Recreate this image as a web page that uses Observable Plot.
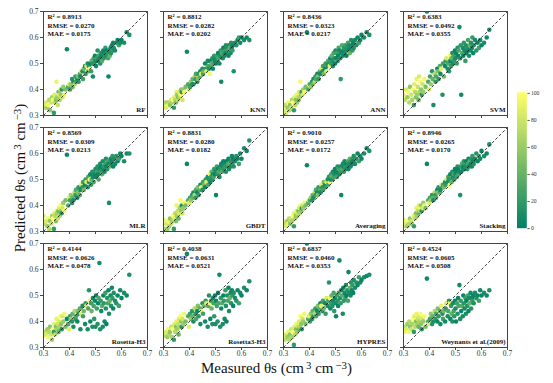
<!DOCTYPE html>
<html><head><meta charset="utf-8">
<script src="https://cdn.jsdelivr.net/npm/d3@7"></script>
<script src="https://cdn.jsdelivr.net/npm/@observablehq/plot@0.6"></script>
<style>
body{margin:0;background:#fff;}
#wrap{position:relative;width:553px;height:383px;font-family:"Liberation Serif","Times New Roman",serif;color:#111;}
#wrap svg{position:absolute;left:0;top:0;}
#bar{position:absolute;left:517px;top:89px;}
#bar svg{position:static;}
.lab{position:absolute;font-size:15px;line-height:15px;white-space:nowrap;}
.lab sup{font-size:0.72em;line-height:1;position:relative;top:-0.4em;vertical-align:baseline;margin-left:2px;}
#xlab{left:0;width:553px;text-align:center;top:361px;}
#ylab{left:20px;top:178px;transform:translate(-50%,-50%) rotate(-90deg);}
</style></head><body>
<div id="wrap">
  <div id="bar"></div>
  <div class="lab" id="xlab">Measured θs (cm<sup>3</sup> cm<sup>−3</sup>)</div>
  <div class="lab" id="ylab">Predicted θs (cm<sup>3</sup> cm<sup>−3</sup>)</div>
</div>
<script>
const models = ["RF","KNN","ANN","SVM","MLR","GBDT","Averaging","Stacking","Rosetta-H3","Rosetta3-H3","HYPRES","Weynants et al.(2009)"];
const r2Values = ["0.8913","0.8812","0.8436","0.6383","0.8569","0.8831","0.9010","0.8946","0.4144","0.4038","0.6837","0.4524"];
const rmseValues = ["0.0270","0.0282","0.0323","0.0492","0.0309","0.0280","0.0257","0.0265","0.0626","0.0631","0.0460","0.0605"];
const maeValues = ["0.0175","0.0202","0.0217","0.0355","0.0213","0.0182","0.0172","0.0170","0.0478","0.0521","0.0353","0.0508"];
const axisTicks = [0.3,0.4,0.5,0.6,0.7];
const colorTicks = [0,20,40,60,80,100];

const measured = [.300,.305,.310,.315,.318,.322,.325,.330,.333,.336,.340,.342,.345,.348,.350,.352,.355,.358,.360,.362,.365,.368,.370,.373,.376,.380,.385,.390,.395,.398,
.402,.405,.410,.412,.415,.420,.423,.425,.430,.432,.435,.440,.442,.445,.450,.452,.455,.460,.462,.465,.470,.472,.475,.478,.480,.483,.485,.488,.490,.493,.495,.498,
.500,.502,.505,.508,.510,.512,.515,.518,.520,.522,.525,.528,.530,.532,.535,.538,.540,.542,.545,.548,.550,.552,.555,.558,.560,.563,.565,.568,.570,.575,.580,.585,.590,.595,.600,.610,.620,.630];
const colorValue = [90,75,85,60,95,70,55,80,65,100,20,88,72,50,92,62,78,40,85,68,98,55,15,82,60,95,48,5,30,88,
25,60,15,40,10,70,20,30,5,50,18,35,8,90,12,25,45,6,20,85,10,30,15,95,5,22,40,12,8,28,18,3,
10,5,25,15,3,30,8,12,20,6,35,10,4,18,8,22,12,2,15,28,5,10,40,8,14,6,20,3,12,9,15,5,25,8,4,10,6,12];

const predRF = [.34,.33,.35,.33,.34,.36,.32,.35,.37,.36,.31,.38,.35,.36,.43,.37,.34,.39,.38,.36,.40,.38,.40,.37,.41,.38,.40,.555,.41,.42,
.40,.42,.44,.41,.43,.42,.45,.43,.44,.45,.43,.46,.45,.47,.47,.44,.48,.49,.46,.49,.50,.47,.49,.48,.50,.47,.51,.50,.45,.52,.50,.53,
.51,.49,.52,.55,.51,.53,.52,.50,.54,.53,.51,.54,.55,.52,.54,.56,.53,.55,.54,.52,.45,.55,.53,.56,.54,.57,.55,.58,.56,.55,.58,.59,.57,.58,.59,.58,.62,.61];
const predKNN = [.34,.35,.33,.35,.34,.35,.34,.36,.35,.36,.33,.37,.36,.35,.39,.38,.36,.37,.39,.37,.38,.40,.39,.36,.40,.39,.41,.545,.42,.40,
.41,.43,.42,.44,.42,.45,.44,.46,.43,.44,.46,.45,.47,.46,.48,.46,.47,.50,.48,.47,.51,.49,.48,.46,.51,.49,.50,.52,.48,.50,.53,.51,
.52,.50,.53,.51,.54,.52,.50,.53,.55,.43,.54,.52,.56,.54,.53,.55,.57,.54,.56,.55,.53,.57,.56,.54,.58,.56,.55,.57,.47,.58,.57,.59,.60,.58,.60,.59,.60,.59];
const predANN = [.32,.34,.31,.33,.35,.32,.34,.33,.36,.35,.32,.37,.34,.36,.38,.35,.37,.36,.39,.37,.43,.38,.39,.38,.40,.39,.41,.62,.40,.42,
.42,.41,.43,.42,.44,.43,.45,.44,.46,.45,.44,.47,.46,.48,.47,.49,.46,.48,.50,.47,.49,.51,.50,.49,.52,.50,.53,.51,.49,.54,.52,.50,
.55,.52,.54,.51,.53,.56,.55,.52,.44,.54,.57,.53,.55,.56,.54,.57,.55,.53,.56,.58,.55,.57,.54,.56,.59,.57,.55,.58,.56,.59,.57,.60,.58,.59,.61,.60,.62,.61];
const predSVM = [.38,.36,.40,.37,.39,.35,.41,.38,.36,.40,.34,.42,.39,.37,.44,.38,.41,.36,.45,.39,.43,.40,.38,.42,.39,.44,.41,.70,.43,.40,
.45,.42,.47,.44,.34,.46,.43,.45,.48,.47,.44,.49,.46,.48,.38,.50,.45,.49,.51,.52,.48,.50,.47,.53,.51,.49,.52,.54,.50,.53,.51,.55,
.52,.54,.50,.56,.53,.55,.64,.52,.57,.38,.54,.56,.53,.58,.55,.51,.57,.54,.56,.59,.55,.53,.57,.55,.58,.56,.60,.54,.57,.59,.55,.58,.56,.59,.57,.58,.60,.63];
const predMLR = [.36,.33,.34,.32,.35,.31,.34,.33,.36,.35,.31,.37,.36,.34,.38,.37,.35,.38,.39,.36,.40,.38,.37,.39,.41,.38,.42,.595,.40,.43,
.42,.44,.41,.43,.42,.45,.44,.46,.43,.45,.47,.44,.46,.48,.47,.49,.46,.48,.50,.49,.47,.51,.49,.50,.52,.48,.50,.53,.51,.49,.53,.52,
.54,.51,.53,.55,.52,.50,.54,.56,.53,.55,.52,.57,.54,.55,.53,.56,.58,.55,.54,.57,.56,.41,.55,.58,.56,.57,.59,.55,.58,.56,.59,.57,.58,.60,.59,.57,.60,.60];
const predGBDT = [.345,.31,.33,.31,.34,.32,.35,.33,.34,.36,.31,.35,.37,.34,.40,.36,.38,.35,.37,.39,.42,.38,.40,.37,.39,.41,.40,.56,.42,.41,
.43,.42,.44,.43,.45,.44,.43,.46,.45,.47,.44,.46,.48,.47,.46,.49,.48,.47,.50,.49,.51,.48,.50,.52,.49,.51,.53,.50,.52,.51,.54,.52,
.53,.44,.55,.52,.54,.53,.51,.55,.54,.56,.53,.55,.57,.54,.56,.55,.53,.57,.55,.56,.58,.54,.56,.55,.57,.59,.56,.58,.55,.57,.59,.58,.56,.60,.58,.62,.61,.65];
const predAveraging = [.34,.33,.32,.34,.33,.35,.33,.35,.34,.36,.32,.37,.35,.36,.38,.36,.37,.38,.39,.37,.40,.38,.39,.40,.39,.41,.40,.555,.41,.42,
.42,.43,.42,.44,.43,.45,.44,.46,.45,.44,.47,.46,.45,.48,.47,.46,.49,.48,.47,.49,.50,.48,.51,.49,.50,.52,.51,.50,.53,.51,.52,.54,
.52,.53,.51,.55,.53,.54,.52,.55,.53,.44,.54,.56,.55,.53,.57,.55,.54,.56,.55,.57,.54,.56,.58,.55,.57,.56,.58,.57,.59,.56,.58,.60,.57,.59,.58,.60,.62,.61];
const predStacking = [.345,.32,.33,.32,.34,.33,.35,.34,.33,.36,.32,.36,.35,.37,.39,.36,.38,.37,.40,.38,.39,.40,.38,.39,.41,.40,.39,.56,.42,.41,
.43,.42,.44,.43,.42,.45,.44,.43,.46,.45,.47,.45,.46,.48,.47,.48,.47,.49,.48,.50,.49,.51,.50,.48,.52,.50,.49,.53,.51,.52,.50,.54,
.52,.53,.51,.55,.54,.52,.53,.44,.55,.53,.56,.54,.55,.57,.54,.56,.55,.57,.54,.56,.58,.55,.57,.56,.58,.55,.59,.57,.56,.58,.60,.57,.59,.58,.61,.59,.60,.635];
const predRosettaH3 = [.345,.36,.35,.37,.34,.36,.38,.35,.33,.37,.36,.39,.35,.38,.41,.37,.39,.36,.40,.38,.42,.39,.37,.42,.40,.43,.38,.41,.39,.37,
.42,.41,.40,.43,.38,.44,.41,.42,.40,.44,.43,.45,.37,.43,.46,.42,.44,.39,.47,.46,.37,.45,.52,.48,.40,.47,.44,.38,.49,.46,.41,.48,
.38,.50,.45,.39,.47,.49,.625,.37,.48,.44,.46,.38,.50,.47,.40,.51,.45,.39,.49,.47,.52,.43,.48,.50,.46,.53,.49,.45,.51,.48,.47,.50,.46,.52,.49,.51,.50,.58];
const predRosetta3H3 = [.35,.345,.36,.34,.37,.35,.36,.38,.34,.37,.33,.39,.36,.38,.40,.37,.39,.35,.41,.38,.42,.40,.38,.41,.39,.43,.40,.66,.42,.38,
.43,.41,.44,.42,.40,.45,.43,.41,.44,.46,.42,.45,.39,.44,.47,.43,.46,.40,.48,.47,.38,.46,.50,.47,.41,.48,.45,.39,.49,.47,.42,.50,
.39,.48,.46,.40,.51,.47,.58,.38,.49,.45,.47,.39,.50,.48,.41,.52,.46,.40,.50,.48,.53,.44,.49,.51,.47,.52,.50,.46,.51,.49,.48,.52,.47,.51,.50,.53,.52,.555];
const predHYPRES = [.345,.33,.35,.34,.36,.33,.35,.37,.34,.36,.31,.38,.35,.37,.39,.36,.38,.37,.40,.38,.42,.39,.37,.41,.40,.43,.39,.70,.41,.42,
.40,.43,.41,.44,.42,.43,.45,.42,.44,.46,.43,.45,.47,.46,.44,.48,.45,.47,.43,.49,.46,.48,.55,.49,.45,.47,.50,.46,.48,.51,.44,.49,
.47,.42,.50,.48,.46,.51,.635,.49,.47,.52,.50,.43,.53,.48,.51,.49,.54,.50,.52,.48,.59,.51,.53,.50,.55,.52,.54,.51,.56,.53,.55,.54,.57,.55,.56,.57,.575,.58];
const predWeynants = [.36,.38,.37,.39,.36,.40,.38,.37,.39,.41,.36,.42,.38,.40,.43,.39,.41,.38,.42,.40,.43,.39,.37,.41,.40,.42,.38,.565,.40,.39,
.41,.43,.39,.42,.40,.44,.41,.43,.40,.45,.42,.44,.39,.46,.43,.41,.44,.40,.45,.47,.42,.44,.48,.47,.41,.46,.43,.40,.47,.44,.42,.48,
.45,.40,.47,.43,.49,.46,.54,.41,.48,.44,.46,.42,.50,.47,.45,.49,.43,.48,.46,.50,.44,.49,.47,.51,.45,.49,.48,.50,.47,.51,.49,.50,.48,.52,.50,.51,.50,.52];

const predictions = [predRF,predKNN,predANN,predSVM,predMLR,predGBDT,predAveraging,predStacking,predRosettaH3,predRosetta3H3,predHYPRES,predWeynants];
const nCols = 4;

const points = [];
predictions.forEach((pred, k) => pred.forEach((p, i) => points.push({
  model: models[k], col: k % nCols, row: Math.floor(k / nCols),
  measured: measured[i], predicted: p, c: colorValue[i]
})));
const stats = models.map((m, k) => ({
  model: m, col: k % nCols, row: Math.floor(k / nCols),
  label: `R² = ${r2Values[k]}\nRMSE = ${rmseValues[k]}\nMAE = ${maeValues[k]}`
}));
const diag = [{x1: axisTicks[0], y1: axisTicks[0], x2: axisTicks[4], y2: axisTicks[4]}];
const colorScale = {type: "linear", domain: [0, 100], range: ["#008066", "#ffff66"]};

const chart = Plot.plot({
  width: 553, height: 383,
  marginLeft: 42, marginRight: 46, marginTop: 10, marginBottom: 36,
  style: {fontFamily: "'Liberation Serif', serif", fontSize: "7.5px", color: "#333", background: "transparent"},
  fx: {axis: null, paddingInner: 0.135, paddingOuter: 0},
  fy: {axis: null, paddingInner: 0.107, paddingOuter: 0},
  x: {domain: [0.3, 0.7], label: null},
  y: {domain: [0.3, 0.7], label: null},
  color: colorScale,
  marks: [
    Plot.axisX({ticks: axisTicks, tickSize: 3, fill: "none", facetAnchor: null, label: null, stroke: "#444"}),
    Plot.axisY({ticks: axisTicks, tickSize: 3, fill: "none", facetAnchor: null, label: null, stroke: "#444"}),
    Plot.axisX({ticks: axisTicks, tickSize: 0, tickPadding: 3, tickFormat: ".1f", label: null}),
    Plot.axisY({ticks: axisTicks, tickSize: 0, tickPadding: 5, tickFormat: ".1f", label: null}),
    Plot.dot(points, {fx: "col", fy: "row", x: "measured", y: "predicted", fill: "c", r: 2.3, clip: true}),
    Plot.link(diag, {x1: "x1", y1: "y1", x2: "x2", y2: "y2", stroke: "#111", strokeWidth: 0.8, strokeDasharray: "3,2"}),
    Plot.frame({stroke: "#444", strokeWidth: 1}),
    Plot.text(stats, {fx: "col", fy: "row", frameAnchor: "top-left", dx: 4, dy: 2, text: "label", fontWeight: "bold", fontSize: 7, lineHeight: 1.2, fill: "#111"}),
    Plot.text(stats, {fx: "col", fy: "row", frameAnchor: "bottom-right", dx: -2, dy: -4, text: "model", fontWeight: "bold", fontSize: 7, fill: "#111"})
  ]
});
document.getElementById("wrap").prepend(chart);

const ramp = d3.range(0, 100, 0.5);
const bar = Plot.plot({
  width: 45, height: 180, marginTop: 5, marginBottom: 6, marginLeft: 0, marginRight: 33,
  style: {fontFamily: "'Liberation Serif', serif", fontSize: "7px", color: "#333", background: "transparent"},
  x: {domain: [0, 1], axis: null},
  y: {domain: [0, 100], ticks: colorTicks, tickSize: 3, tickPadding: 2, label: null, axis: "right"},
  color: colorScale,
  marks: [
    Plot.rect(ramp, {x1: () => 0, x2: () => 1, y1: d => d, y2: d => d + 1, fill: d => d})
  ]
});
document.getElementById("bar").appendChild(bar);
</script>
</body></html>
